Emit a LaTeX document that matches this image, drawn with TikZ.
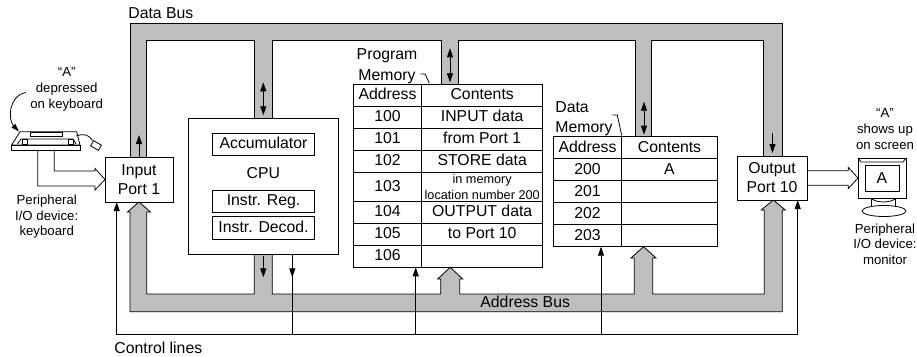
\documentclass[tikz,border=0pt]{standalone}
\usepackage{fontspec}
\setmainfont{Liberation Sans}
\usetikzlibrary{positioning, arrows.meta, calc}
\definecolor{busgray}{RGB}{189,190,192}

\begin{document}
\begin{tikzpicture}[x=1pt, y=-1pt, line width=0.8pt,
  font=\fontsize{15.8}{19}\selectfont,
  box/.style={draw, fill=white, inner sep=0pt, outer sep=0pt, align=center},
  reg/.style={box, minimum width=101.6pt, minimum height=22.4pt, text height=11.3pt, text depth=2.5pt},
  cell/.style={draw, inner sep=0pt, outer sep=0pt, minimum height=22pt, text height=11.3pt, text depth=2.5pt},
  addr/.style={cell, minimum width=68.4pt},
  pcont/.style={cell, minimum width=121pt},
  dcont/.style={cell, minimum width=95.6pt},
  bus/.style={draw, fill=busgray},
  sig/.style={-{Triangle[length=9pt,width=6pt]}},
  dsig/.style={{Triangle[length=9pt,width=6pt]}-{Triangle[length=9pt,width=6pt]}},
  lbl/.style={inner sep=0pt, align=center},
  small/.style={lbl, font=\fontsize{13.2}{16}\selectfont}]
\useasboundingbox (0,0) rectangle (917,356);

% data bus
\draw[bus] (130,157) -- (130,23) -- (782.3,23) -- (782.3,156) -- (763.3,156)
  -- (763.3,40) -- (651.7,40) -- (651.7,136.7) -- (635.7,136.7) -- (635.7,40)
  -- (458.3,40) -- (458.3,84.3) -- (441.7,84.3) -- (441.7,40) -- (272.3,40)
  -- (272.3,118.3) -- (254.3,118.3) -- (254.3,40) -- (146.7,40) -- (146.7,157) -- cycle;

% address bus
\draw[bus] (139,202) -- (150.5,212) -- (146.7,212) -- (146.7,294) -- (254.3,294)
  -- (254.3,254.3) -- (272.3,254.3) -- (272.3,294) -- (440.7,294) -- (440.7,279)
  -- (437.7,279) -- (450.2,267.3) -- (462.7,279) -- (459.7,279) -- (459.7,294)
  -- (634.3,294) -- (634.3,258) -- (631,258) -- (643.5,246.7) -- (656,258)
  -- (652.7,258) -- (652.7,294) -- (764.3,294) -- (764.3,210) -- (761.3,210)
  -- (773.3,200) -- (785.3,210) -- (782.3,210) -- (782.3,311.7) -- (130,311.7)
  -- (130,212) -- (127.5,212) -- cycle;

% ports and cpu
\node[box, minimum width=68pt, minimum height=45pt] (inport) at (139,179.5) {Input\\Port 1};
\node[box, minimum width=70pt, minimum height=44pt] (outport) at (772,178) {Output\\Port 10};

\node[box, minimum width=150pt, minimum height=136pt] (cpu) at (263.3,186.3) {};
\node[reg] (acc) at (263.5,144.5) {Accumulator};
\node[lbl] (cpulbl) at (263.3,173.3) {CPU};
\node[reg] (ireg) at (263.5,201.3) {Instr. Reg.};
\node[reg, below=4pt of ireg] (idec) {Instr. Decod.};

% program memory
\node[addr, anchor=north west] (pa) at (353.3,84.3) {Address};
\node[pcont, right=0pt of pa] (pc) {Contents};
\node[addr, below=0pt of pa] (pa100) {100};
\node[pcont, right=0pt of pa100] (pc100) {INPUT data};
\node[addr, below=0pt of pa100] (pa101) {101};
\node[pcont, right=0pt of pa101] (pc101) {from Port 1};
\node[addr, below=0pt of pa101] (pa102) {102};
\node[pcont, right=0pt of pa102] (pc102) {STORE data};
\node[addr, below=0pt of pa102, minimum height=29pt] (pa103) {103};
\node[pcont, right=0pt of pa103, minimum height=29pt, text height=, text depth=,
  align=center, font=\fontsize{12.7}{16}\selectfont] (pc103) {in memory\\location number 200};
\node[addr, below=0pt of pa103] (pa104) {104};
\node[pcont, right=0pt of pa104] (pc104) {OUTPUT data};
\node[addr, below=0pt of pa104] (pa105) {105};
\node[pcont, right=0pt of pa105] (pc105) {to Port 10};
\node[addr, below=0pt of pa105] (pa106) {106};
\node[pcont, right=0pt of pa106] (pc106) {};

% data memory
\node[addr, anchor=north west] (da) at (553.3,136.7) {Address};
\node[dcont, right=0pt of da] (dc) {Contents};
\node[addr, below=0pt of da] (da200) {200};
\node[dcont, right=0pt of da200] (dc200) {A};
\node[addr, below=0pt of da200] (da201) {201};
\node[dcont, right=0pt of da201] (dc201) {};
\node[addr, below=0pt of da201] (da202) {202};
\node[dcont, right=0pt of da202] (dc202) {};
\node[addr, below=0pt of da202] (da203) {203};
\node[dcont, right=0pt of da203] (dc203) {};

% arrows inside the buses
\draw[sig] (inport.north) -- ++(0,-22);
\draw[dsig] ($(cpu.north)+(0,-3)$) -- ++(0,-33);
\draw[dsig] ($(pc.north west)+(28.3,-2)$) -- ++(0,-34);
\draw[dsig] ($(dc.north west)+(22.3,-2)$) -- ++(0,-33);
\draw[sig] ($(outport.north)+(0.5,-23)$) -- ++(0,20);
\draw[sig] ($(cpu.south)+(0,2)$) -- ++(0,21);

% control lines
\coordinate (ctlL) at (116.7,334.3);
\coordinate (ctlR) at (797.7,334.3);
\coordinate (ctlC) at (292.3,334.3);
\coordinate (ctlP) at (415.7,334.3);
\coordinate (ctlD) at (601,334.3);
\draw[dsig] (ctlL |- inport.south) -- (ctlL) -- (ctlR) -- (ctlR |- outport.south);
\draw (cpu.south -| ctlC) -- (ctlC);
\draw[sig] (cpu.south -| ctlC) -- ++(0,23);
\draw[sig] (ctlP) -- (ctlP |- pa106.south);
\draw[sig] (ctlD) -- (ctlD |- da203.south);

% bus labels
\node[lbl, anchor=west] (dbuslbl) at (128,12.7) {Data Bus};
\node[lbl, anchor=west] (abuslbl) at (480,302.3) {Address Bus};
\node[lbl, anchor=west] (ctllbl) at (114,347.5) {Control lines};
\node[lbl, font=\fontsize{15.8}{21}\selectfont] (pmlbl) at (387,66) {Program\\Memory};
\draw (420.7,74) -- (425,74) -- (429.3,83);
\node[lbl, align=left, anchor=west, font=\fontsize{15.8}{19.4}\selectfont] (dmlbl) at (555,118.7) {Data\\Memory};
\draw (612.3,115) -- (617.3,115) -- (621.7,135.5);

% keyboard
\draw[fill=white] (20,131.7) -- (76.7,131.7) -- (80,145) -- (11.7,145) -- cycle;
\draw[fill=white] (11.7,145) rectangle (80,150.7);
\draw (30.7,132.7) rectangle (62.7,136.7);
\draw (17.5,144) -- (21,139) -- (73,139) -- (76,144);
\draw (22,139) rectangle (27.5,144);
\draw (68,139) rectangle (73.5,144);
\draw[rotate around={-30:(96,145.5)}] (91.5,142.5) rectangle (100.5,148.5);
\draw (76.5,136) .. controls (84,133) and (89,135) .. (92.5,140.5);
\node[small] (kbdlbl) at (66.7,89.5) {“A”\\depressed\\on keyboard};
\draw[-{Triangle[length=8pt,width=5pt]}] ($(kbdlbl.west)+(-4,3)$) .. controls (8,96) and (8,120) .. (19,131.5);
\node[small, font=\fontsize{13.2}{15.5}\selectfont] (kbddev) at (46.7,216.8) {Peripheral\\I/O device:\\keyboard};
\draw (37.7,150.7) -- (37.7,186) -- (95,186) -- (95,190) -- (inport.west)
  -- (95,168.5) -- (95,171) -- (54.3,171) -- (54.3,150.7);

% monitor
\node[draw, fill=white, minimum width=48pt, minimum height=40pt, inner sep=0pt, outer sep=0pt] (monitor) at (882,178) {};
\draw (monitor.north west) -- ++(3,4) -- ($(monitor.north east)+(-3,4)$) -- (monitor.north east);
\node[draw, minimum width=34pt, minimum height=26pt, inner sep=0pt] (screen) at (882,178.5) {A};
\draw (871.5,198) -- (871.5,207) (895.5,198) -- (895.5,207);
\draw (871.5,199) .. controls (877,201.5) .. (883.5,202) .. controls (890,201.5) .. (895.5,199);
\draw (884,211) ellipse [x radius=22, y radius=5.5];
\draw (807,170.8) -- (848.3,170.8) -- (848.3,167.5) -- (monitor.west) -- (848.3,188.5)
  -- (848.3,185.2) -- (807,185.2);
\node[small, font=\fontsize{13.2}{15.85}\selectfont] (monlbl) at (885,129.2) {“A”\\shows up\\on screen};
\node[small, font=\fontsize{13.2}{15.85}\selectfont] (mondev) at (885,244.2) {Peripheral\\I/O device:\\monitor};
\end{tikzpicture}
\end{document}
